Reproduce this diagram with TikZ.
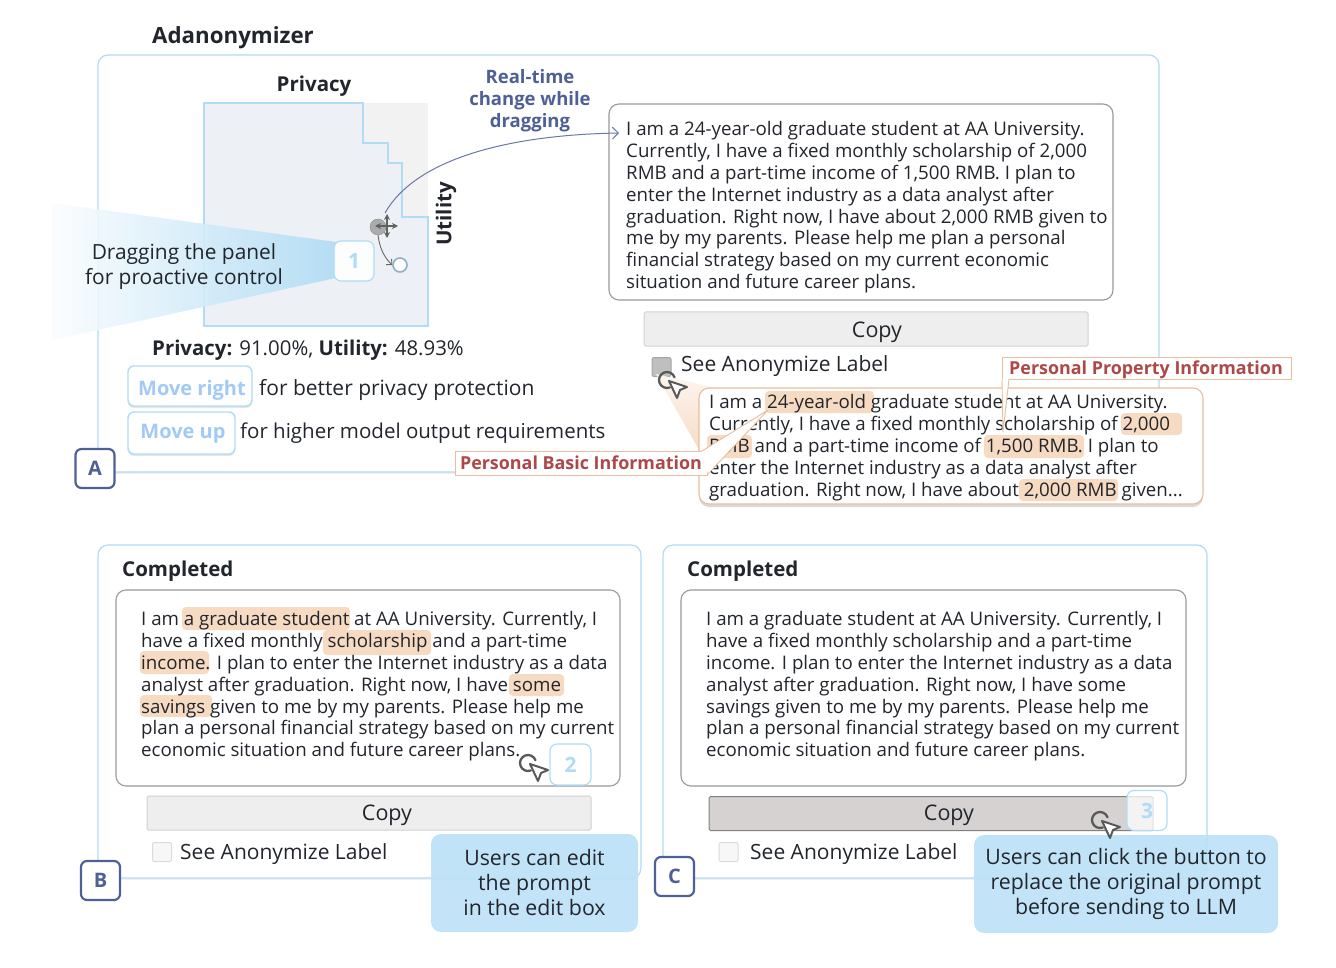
\documentclass[tikz,border=0pt]{standalone}
\usepackage{fontspec}
\setmainfont{Open Sans}
\usepackage{xcolor}
\usetikzlibrary{arrows.meta,calc,positioning,shadows}
\definecolor{adblue}{RGB}{176,220,245}
\definecolor{adsky}{RGB}{189,225,247}
\definecolor{adnavy}{RGB}{78,96,150}
\definecolor{adink}{RGB}{34,38,44}
\definecolor{adpeach}{RGB}{246,218,193}
\definecolor{adline}{RGB}{232,190,156}
\definecolor{adred}{RGB}{174,72,72}
\definecolor{adgray}{RGB}{238,238,238}
\definecolor{adregion}{RGB}{237,241,245}
\definecolor{adpressed}{RGB}{214,210,210}

\begin{document}
\begin{tikzpicture}[
  x=1pt,y=-1pt,
  font=\fontsize{18.7}{21.9}\selectfont,
  text=adink,
  panel/.style={draw=adblue,line width=1.2pt,rounded corners=10pt,fill=white,
                drop shadow={shadow xshift=0pt,shadow yshift=-2pt,opacity=.12}},
  promptbox/.style={draw=black!40,line width=1.1pt,rounded corners=10pt,fill=white,
                    minimum height=196pt,inner sep=0pt},
  prompttext/.style={align=left,anchor=north west,inner sep=0pt},
  copybtn/.style={draw=black!18,line width=1pt,fill=adgray,rounded corners=1.5pt,
                  minimum height=34pt,inner sep=0pt},
  copytext/.style={inner sep=0pt,font=\fontsize{21.5}{24}\selectfont},
  tick/.style={draw=black!14,line width=1pt,fill=black!3,rounded corners=2pt,
               minimum size=19pt,inner sep=0pt},
  ticklabel/.style={anchor=west,inner sep=0pt,font=\fontsize{21}{24}\selectfont},
  bold/.style={font=\fontsize{20.5}{24}\selectfont\bfseries},
  letterbox/.style={draw=adnavy,line width=2.2pt,rounded corners=6pt,fill=white,minimum size=39pt,
                    inner sep=0pt,text=adnavy,font=\fontsize{20}{24}\selectfont\bfseries},
  numbox/.style={draw=adblue,line width=1.2pt,rounded corners=7pt,fill=white,minimum size=40pt,
                 inner sep=0pt,text=adblue,font=\fontsize{21}{24}\selectfont\bfseries},
  hintbtn/.style={draw=adblue,line width=1.4pt,rounded corners=6pt,fill=white,minimum height=40pt,
                  inner sep=0pt,drop shadow={shadow xshift=0pt,shadow yshift=-2pt,opacity=.2}},
  hinttext/.style={inner sep=0pt,text=adblue!92!blue,font=\fontsize{20}{24}\selectfont\bfseries},
  hintnote/.style={anchor=west,inner sep=0pt,font=\fontsize{20.5}{24}\selectfont},
  callout/.style={fill=adsky,rounded corners=10pt,fill opacity=.93,text opacity=1,align=center,
                  inner sep=0pt,font=\fontsize{21.3}{25}\selectfont},
  hl/.style={fill=adpeach,rounded corners=4pt},
  taglabel/.style={draw=adline,line width=1pt,fill=white,inner sep=0pt},
  tagtext/.style={text=adred,inner sep=0pt,font=\fontsize{17.9}{22}\selectfont\bfseries},
  tagneedle/.style={draw=adline,line width=.9pt,fill=white,line join=round},
  cursorshape/.pic={
    \draw[black!65,line width=2.3pt,line cap=round] (70:8) arc[start angle=70,end angle=340,radius=8];
    \draw[black!65,fill=white,line width=2pt,line join=round] (2,1) -- (20,7) -- (13,10) -- (10,18) -- cycle;
  }
]
  \useasboundingbox (0,0) rectangle (1336,968);

  \node[bold,font=\fontsize{22.3}{26}\selectfont\bfseries,anchor=west,inner sep=0pt] (apptitle) at (152,38) {Adanonymizer};

  % panel A
  \draw[panel] (98,55) rectangle (1159,472);
  \node[bold] (privacytitle) at (314,86) {Privacy};
  \node[bold,rotate=90] (utilitytitle) at (446,214) {Utility};
  \fill[black!5] (204,103) rectangle (428,326);
  \draw[adblue,line width=2pt,fill=adregion] (204,103) -- (363,103) -- (363,143) -- (388,143) -- (388,163)
    -- (402,163) -- (402,217) -- (428,217) -- (428,326) -- (204,326) -- cycle;
  \node[circle,fill=black!42,fill opacity=.75,draw=black!45,minimum size=16pt,inner sep=0pt] (handle) at (378,227) {};
  \node[circle,fill=white,draw=adblue!80!black,line width=1.6pt,minimum size=14pt,inner sep=0pt] (target) at (400,265) {};
  \draw[{Stealth[length=6pt,width=6pt]}-{Stealth[length=6pt,width=6pt]},black!62,line width=1.2pt] (375,226) -- (398,226);
  \draw[{Stealth[length=6pt,width=6pt]}-{Stealth[length=6pt,width=6pt]},black!62,line width=1.2pt] (387,214) -- (387,238);
  \draw[-{Straight Barb[length=4pt]},black!60,line width=.9pt] (handle.south) .. controls (380,250) and (385,258) .. (target.west);
  \shade[left color=adblue!6!white,right color=adblue,opacity=.9] (52,203) -- (336,242) -- (336,278) -- (52,340) -- cycle;
  \node[numbox,fill opacity=.88,text opacity=1] (stepone) at (354,261) {1};
  \node[align=center,font=\fontsize{20.9}{25}\selectfont] (dragnote) at (184,266.5) {Dragging the panel\\for proactive control};
  \node[hintnote,font=\fontsize{20.4}{24}\selectfont] (scores) at (152,350) {\textbf{Privacy:} 91.00\%, \textbf{Utility:} 48.93\%};
  \node[hintbtn,minimum width=124pt] (moveright) at (190,386) {};
  \node[hinttext] (moverighttext) at (192,390) {Move right};
  \node[hintnote,font=\fontsize{21}{24}\selectfont] (rightnote) at (259,390) {for better privacy protection};
  \node[hintbtn,minimum width=107pt,minimum height=42pt] (moveup) at (181.5,433) {};
  \node[hinttext] (moveuptext) at (183,434) {Move up};
  \node[hintnote] (upnote) at (240,433) {for higher model output requirements};

  % live prompt
  \node[promptbox,minimum width=504pt] (livebox) at (861,202) {};
  \node[prompttext] (livetext) at (626,121) {I am a 24-year-old graduate student at AA University.\\Currently, I have a fixed monthly scholarship of 2,000\\RMB and a part-time income of 1,500 RMB. I plan to\\enter the Internet industry as a data analyst after\\graduation. Right now, I have about 2,000 RMB given to\\me by my parents. Please help me plan a personal\\financial strategy based on my current economic\\situation and future career plans.};
  \coordinate (livein) at (619,133);
  \coordinate (handletop) at (385,213);
  \draw[-{Straight Barb[length=6pt]},adnavy!85,line width=1pt] (handletop) .. controls (415,160) and (505,135) .. (livein);
  \node[align=center,text=adnavy,font=\fontsize{18.5}{22}\selectfont\bfseries] (livenote) at (530,101) {Real-time\\change while\\dragging};
  \node[copybtn,minimum width=444pt] (copya) at (866,329) {};
  \node[copytext] (copyatext) at (877,332) {Copy};
  \node[tick,fill=black!25,draw=black!35] (ticka) at (661.5,367) {};
  \node[ticklabel] (labela) at (681,366) {See Anonymize Label};

  % label popup
  \shade[top color=adpeach!25,bottom color=adpeach] (656,374) -- (716,388) -- (702,455) -- cycle;
  \node[promptbox,draw=adline,minimum width=504pt,minimum height=116pt,
        drop shadow={shadow xshift=0pt,shadow yshift=-3pt,opacity=.3}] (popupbox) at (951,446) {};
  \fill[hl] (765,391) rectangle (874,413);
  \fill[hl] (1121,413) rectangle (1182,435);
  \fill[hl] (707,435) rectangle (752,458);
  \fill[hl] (984,435) rectangle (1084,458);
  \fill[hl] (1019,479) rectangle (1118,501);
  \node[prompttext] (popuptext) at (709,394.5) {I am a 24-year-old graduate student at AA University.\\Currently, I have a fixed monthly scholarship of 2,000\\RMB and a part-time income of 1,500 RMB. I plan to\\enter the Internet industry as a data analyst after\\graduation. Right now, I have about 2,000 RMB given...};
  \pic at (667,380) {cursorshape};
  \node[taglabel,minimum width=252pt,minimum height=24pt] (basictag) at (581,463) {};
  \node[tagtext] (basictext) at (581,463) {Personal Basic Information};
  \draw[tagneedle] (702,451) -- (768,410) -- (708,474);
  \node[taglabel,minimum width=289pt,minimum height=22pt] (propertytag) at (1146.5,368) {};
  \node[tagtext] (propertytext) at (1146,370) {Personal Property Information};
  \draw[tagneedle] (1002,379) -- (1003,432) -- (1009,379);
  \node[letterbox] (badgea) at (95,468.5) {A};

  % panel B
  \draw[panel] (98,545) rectangle (641,878);
  \node[bold,anchor=west,inner sep=0pt] (donetitleb) at (122,571) {Completed};
  \node[promptbox,minimum width=504pt] (editbox) at (368,688) {};
  \fill[hl] (182,607) rectangle (350,630);
  \fill[hl] (323,630) rectangle (431,655);
  \fill[hl] (140,651) rectangle (209,674);
  \fill[hl] (509,674) rectangle (564,696);
  \fill[hl] (140,695) rectangle (212,717);
  \node[prompttext] (edittext) at (141,611) {I am a graduate student at AA University. Currently, I\\have a fixed monthly scholarship and a part-time\\income. I plan to enter the Internet industry as a data\\analyst after graduation. Right now, I have some\\savings given to me by my parents. Please help me\\plan a personal financial strategy based on my current\\economic situation and future career plans.};
  \node[numbox,minimum size=41pt] (steptwo) at (570.5,764.5) {2};
  \pic at (528,763) {cursorshape};
  \node[copybtn,minimum width=444pt] (copyb) at (369,813) {};
  \node[copytext] (copybtext) at (387,815) {Copy};
  \node[tick] (tickb) at (162,852) {};
  \node[ticklabel] (labelb) at (180,854) {See Anonymize Label};
  \node[callout,minimum width=207pt,minimum height=98pt] (editnote) at (534.5,883) {Users can edit\\the prompt\\in the edit box};
  \node[letterbox] (badgeb) at (100.5,880.5) {B};

  % panel C
  \draw[panel] (663,545) rectangle (1207,878);
  \node[bold,anchor=west,inner sep=0pt] (donetitlec) at (687,571) {Completed};
  \node[promptbox,minimum width=505pt] (cleanbox) at (933.5,688) {};
  \node[prompttext] (cleantext) at (706,611) {I am a graduate student at AA University. Currently, I\\have a fixed monthly scholarship and a part-time\\income. I plan to enter the Internet industry as a data\\analyst after graduation. Right now, I have some\\savings given to me by my parents. Please help me\\plan a personal financial strategy based on my current\\economic situation and future career plans.};
  \node[copybtn,minimum width=444pt,fill=adpressed,draw=black!50] (copyc) at (931,813.5) {};
  \node[copytext] (copyctext) at (949,815) {Copy};
  \node[numbox,fill opacity=.75,text opacity=1] (stepthree) at (1147,810.5) {3};
  \node[tick] (tickc) at (728.5,852) {};
  \node[ticklabel] (labelc) at (750,854) {See Anonymize Label};
  \node[callout,minimum width=304pt,minimum height=98pt] (clicknote) at (1126,884) {Users can click the button to\\replace the original prompt\\before sending to LLM};
  \pic at (1100,820) {cursorshape};
  \node[letterbox] (badgec) at (674.5,876.5) {C};
\end{tikzpicture}
\end{document}
